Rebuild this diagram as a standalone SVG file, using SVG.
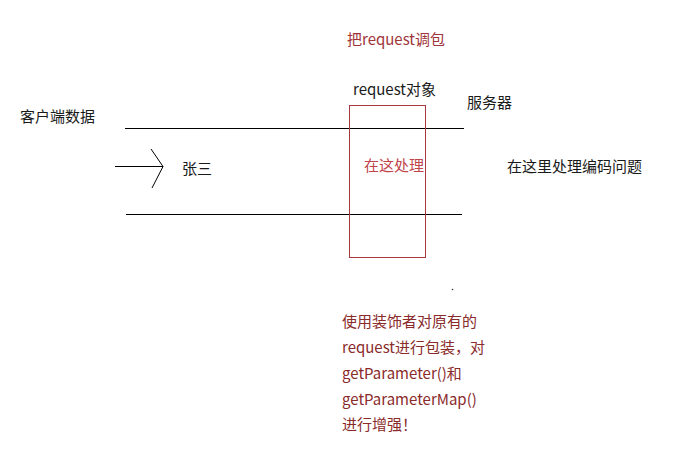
<svg xmlns="http://www.w3.org/2000/svg" width="699" height="465" viewBox="0 0 699 465">
<style>
text{font-family:"Noto Sans CJK SC","Liberation Sans",sans-serif;font-size:15px}
.k{fill:#1a1a1a}
.r{fill:#a0343a}
.rd{fill:#8a2b2b}
.ln{stroke:#000;stroke-width:1;fill:none}
</style>
<rect width="699" height="465" fill="#fff"/>
<g id="connectors">
<line class="ln" x1="125" y1="128.5" x2="464" y2="128.5"/>
<line class="ln" x1="126" y1="214.5" x2="462" y2="214.5"/>
<line class="ln" x1="115" y1="166.5" x2="163" y2="166.5"/>
<polyline class="ln" points="151,149 163,166.5 152,188"/>
</g>
<g id="request-box">
<rect x="349.5" y="105.5" width="76" height="152" fill="none" stroke="#a8393f" stroke-width="1"/>
<text x="364" y="171" style="fill:#c0444a">在这处理</text>
</g>
<g id="labels">
<text class="r" x="347" y="45">把request调包</text>
<text class="k" x="353" y="95">request对象</text>
<text class="k" x="467" y="108">服务器</text>
<text class="k" x="20" y="122">客户端数据</text>
<text class="k" x="182" y="174">张三</text>
<text class="k" x="507" y="172">在这里处理编码问题</text>
<circle cx="452.5" cy="289.5" r="0.8" fill="#333"/>
</g>
<g id="note">
<text class="rd" x="342" y="327">使用装饰者对原有的</text>
<text class="rd" x="342" y="353">request进行包装，对</text>
<text class="rd" x="342" y="379">getParameter()和</text>
<text class="rd" x="342" y="405">getParameterMap()</text>
<text class="rd" x="342" y="430">进行增强！</text>
</g>
</svg>
